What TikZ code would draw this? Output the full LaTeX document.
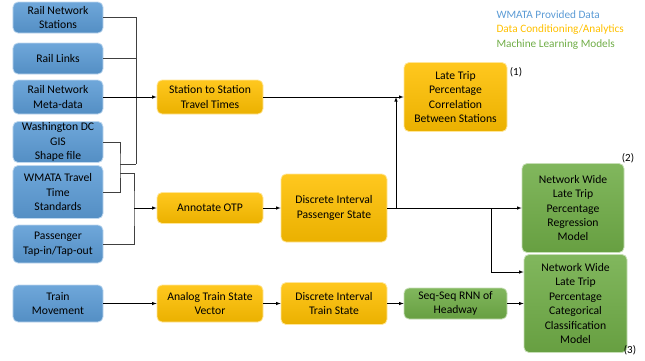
\documentclass[tikz,border=0pt]{standalone}
\usepackage{fontspec}
\setmainfont{Carlito}
\usetikzlibrary{arrows,shapes,positioning}
\definecolor{wblue}{RGB}{91,155,213}
\definecolor{worange}{RGB}{255,192,0}
\definecolor{wgreen}{RGB}{112,173,71}

\tikzset{
box/.style={rounded corners=5bp,draw=white!60!#1,thick,align=center,inner sep=1bp,
  font=\fontsize{11.7}{14.5}\selectfont,top color=white!12!#1,bottom color=black!8!#1},
dbox/.style={box=wblue,minimum width=90bp},
abox/.style={box=worange},
mbox/.style={box=wgreen},
wire/.style={black!75,semithick},
feed/.style={black,semithick,-latex},
tag/.style={font=\fontsize{11}{13}\selectfont},
legend/.style={anchor=west,font=\fontsize{11.3}{13}\selectfont}
}

\begin{document}
\begin{tikzpicture}[x=1bp,y=-1bp]
\useasboundingbox (0,0) rectangle (645,360);
% WMATA data
\node[dbox,minimum height=31bp](stations) at (58,17.5){Rail Network\\Stations};
\node[dbox,minimum height=31bp](links) at (58,58.5){Rail Links};
\node[dbox,minimum height=34bp](meta) at (58,97){Rail Network\\Meta-data};
\node[dbox,minimum height=41bp](gis) at (58,142){Washington DC\\GIS\\Shape file};
\node[dbox,minimum height=53bp](tts) at (58,192){WMATA Travel\\Time\\Standards};
\node[dbox,minimum height=38bp](tap) at (58,244){Passenger\\Tap-in/Tap-out};
\node[dbox,minimum height=37bp](move) at (58,303.5){Train\\Movement};
% conditioning / analytics
\node[abox,minimum width=106bp,minimum height=34bp](sts) at (210,97){Station to Station\\Travel Times};
\node[abox,minimum width=106bp,minimum height=31bp](otp) at (210,208){Annotate OTP};
\node[abox,minimum width=106bp,minimum height=37bp](analog) at (210,303.5){Analog Train State\\Vector};
\node[abox,minimum width=106bp,minimum height=68bp](dps) at (334,208){Discrete Interval\\Passenger State};
\node[abox,minimum width=106bp,minimum height=42bp](dts) at (334,303.5){Discrete Interval\\Train State};
\node[abox,minimum width=103bp,minimum height=69bp](corr) at (455.5,97){Late Trip\\Percentage\\Correlation\\Between Stations};
% machine learning
\node[mbox,minimum width=103bp,minimum height=31bp](rnn) at (455.5,303.5){Seq-Seq RNN of\\Headway};
\node[mbox,minimum width=102bp,minimum height=89bp](regr) at (573,208){Network Wide\\Late Trip\\Percentage\\Regression\\Model};
\node[mbox,minimum width=103bp,minimum height=98bp](clf) at (575.5,303.5){Network Wide\\Late Trip\\Percentage\\Categorical\\Classification\\Model};
\node[tag](n1) at (516,72){(1)};
\node[tag](n2) at (628,158){(2)};
\node[tag](n3) at (630,350){(3)};
% legend
\node[legend,text=wblue](leg1) at (493,15){WMATA Provided Data};
\node[legend,text=worange](leg2) at (493,30){Data Conditioning/Analytics};
\node[legend,text=wgreen](leg3) at (493,44.5){Machine Learning Models};
% wiring on the left
\coordinate (j1) at (136,164);
\coordinate (k1) at (120,164);
\coordinate (k2) at (120,173);
\coordinate (j3) at (134,208);
\draw[wire] (stations.east) -| (j1);
\draw[wire] (links.east) -- (links.east -| j1);
\draw[wire] (gis.east) -| (k1) |- (tts.east);
\draw[wire] (k1) -- (j1);
\draw[wire] (k2) -| (j3) |- (tap.east);
\draw[feed] (meta.east) -- (sts.west);
\draw[feed] (j3) -- (otp.west);
\draw[feed] (move.east) -- (analog.west);
% wiring on the right
\coordinate (b1) at (396,208);
\coordinate (b2) at (491,208);
\coordinate (c2) at (clf.west |- 0,272);
\draw[feed] (sts.east) -- (corr.west);
\draw[feed] (otp.east) -- (dps.west);
\draw[feed] (dps.east) -- (regr.west);
\draw[feed] (b1) -- (b1 |- corr.west);
\draw[feed] (b2) |- (c2);
\draw[feed] (analog.east) -- (dts.west);
\draw[feed] (dts.east) -- (rnn.west);
\draw[feed] (rnn.east) -- (clf.west);
\end{tikzpicture}
\end{document}
